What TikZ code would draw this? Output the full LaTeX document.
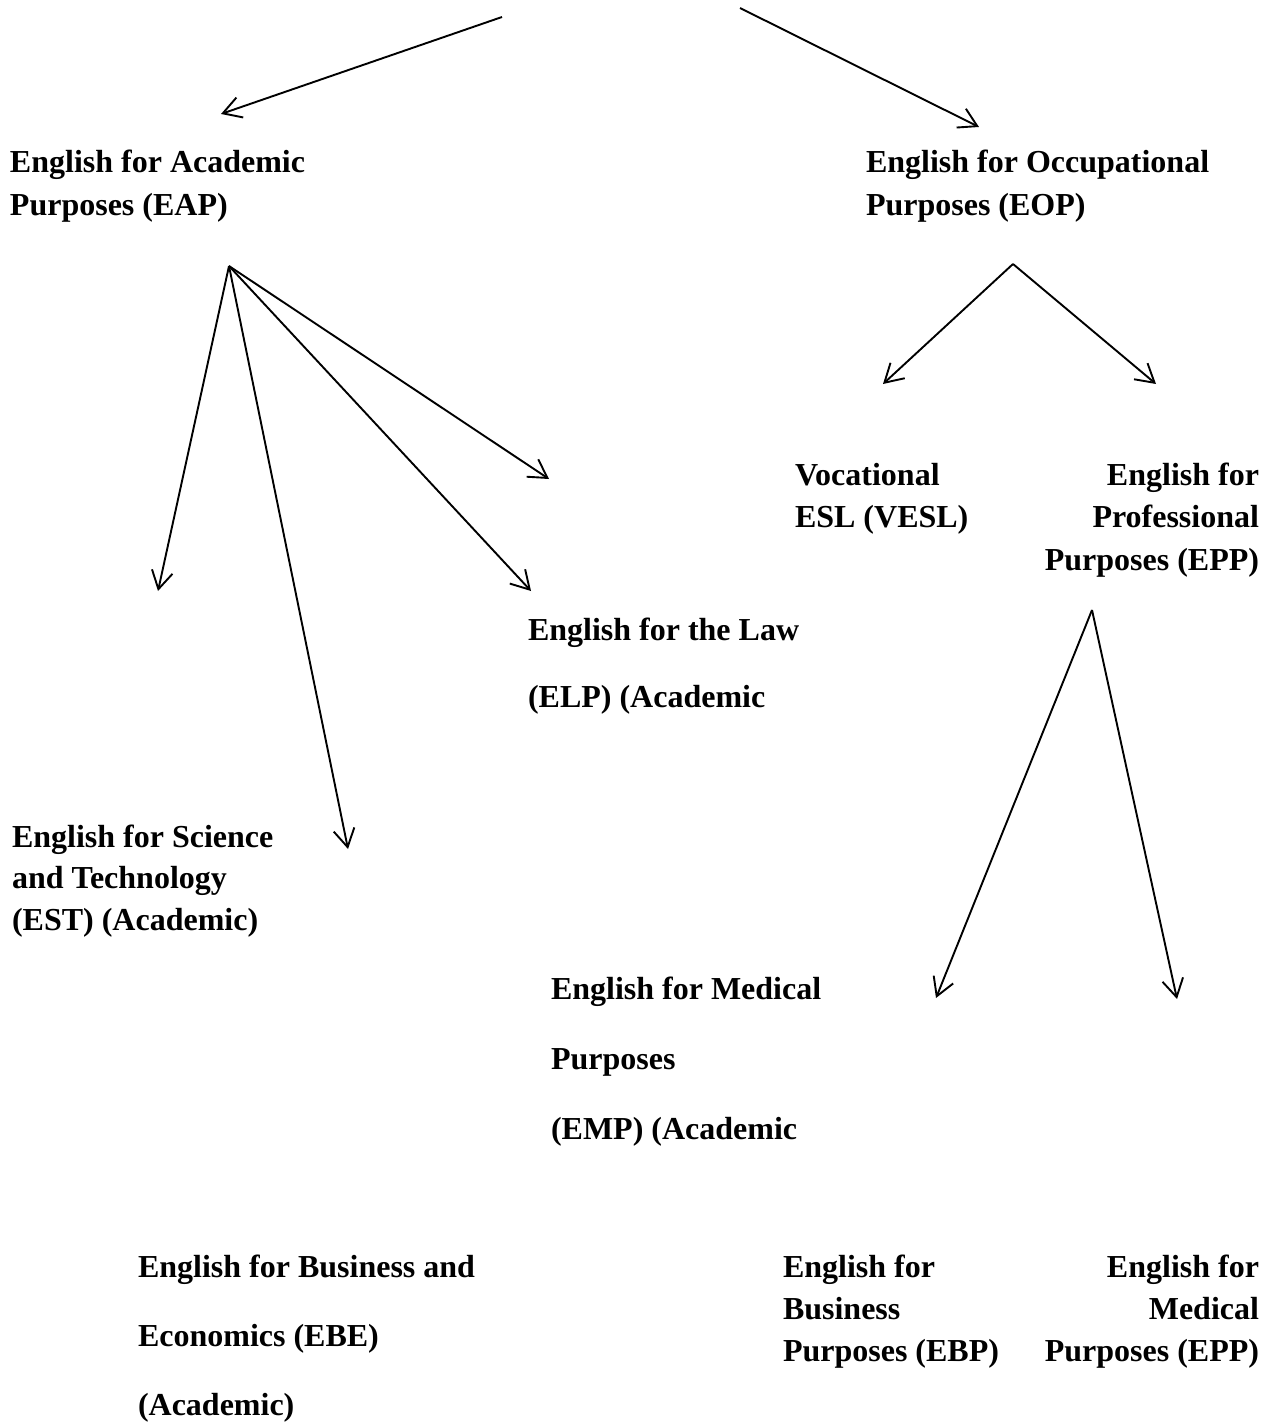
\documentclass[tikz,border=0pt]{standalone}
\usepackage{fontspec}
\setmainfont{Liberation Serif}
\usetikzlibrary{arrows.meta}
\newcommand{\txtblock}[3]{{\fontsize{16}{#1}\selectfont\bfseries\begin{tabular}[t]{@{}#2@{}}#3\end{tabular}}}
\tikzset{
  arr/.style={-{Straight Barb[length=9pt,width=10.5pt]}, line width=0.95pt, black},
  lbl/.style={inner sep=0pt, outer sep=0pt}
}
\begin{document}
\begin{tikzpicture}[x=0.5pt,y=-0.5pt]
\useasboundingbox (0,0) rectangle (1273,1423);
\fill[white] (0,0) rectangle (1273,1423);

% text blocks (anchored at first baseline)
\node[lbl, anchor=base west] (eap) at (10,173) {\txtblock{21.25pt}{l}{English for Academic\\Purposes (EAP)}};
\node[lbl, anchor=base west] (eop) at (866,173) {\txtblock{21.25pt}{l}{English for Occupational\\Purposes (EOP)}};
\node[lbl, anchor=base west] (vesl) at (795,485) {\txtblock{21.25pt}{l}{Vocational\\ESL (VESL)}};
\node[lbl, anchor=base east] (epp) at (1259,485) {\txtblock{21.25pt}{r}{English for\\Professional\\Purposes (EPP)}};
\node[lbl, anchor=base west] (elp) at (528,640) {\txtblock{33.5pt}{l}{English for the Law\\(ELP) (Academic}};
\node[lbl, anchor=base west] (est) at (12,847) {\txtblock{20.9pt}{l}{English for Science\\and Technology\\(EST) (Academic)}};
\node[lbl, anchor=base west] (emp) at (551,999) {\txtblock{35pt}{l}{English for Medical\\Purposes\\(EMP) (Academic}};
\node[lbl, anchor=base west] (ebe) at (138,1277) {\txtblock{34.5pt}{l}{English for Business and\\Economics (EBE)\\(Academic)}};
\node[lbl, anchor=base west] (ebp) at (783,1277) {\txtblock{21pt}{l}{English for\\Business\\Purposes (EBP)}};
\node[lbl, anchor=base east] (med) at (1259,1277) {\txtblock{21pt}{r}{English for\\Medical\\Purposes (EPP)}};

% connector end points
\coordinate (topL) at (502,17);
\coordinate (topR) at (740,8);
\coordinate (eapTip) at (221,114);
\coordinate (eopTip) at (979,127);
\coordinate (eapRoot) at (229,266);
\coordinate (a1) at (158,591);
\coordinate (a2) at (348,849);
\coordinate (a3) at (531,591);
\coordinate (a4) at (549,479);
\coordinate (eopRoot) at (1013,264);
\coordinate (b1) at (883,384);
\coordinate (b2) at (1156,384);
\coordinate (eppRoot) at (1092,610);
\coordinate (c1) at (936,998);
\coordinate (c2) at (1177,999);

\draw[arr] (topL) -- (eapTip);
\draw[arr] (topR) -- (eopTip);
\draw[arr] (eapRoot) -- (a1);
\draw[arr] (eapRoot) -- (a2);
\draw[arr] (eapRoot) -- (a3);
\draw[arr] (eapRoot) -- (a4);
\draw[arr] (eopRoot) -- (b1);
\draw[arr] (eopRoot) -- (b2);
\draw[arr] (eppRoot) -- (c1);
\draw[arr] (eppRoot) -- (c2);
\end{tikzpicture}
\end{document}
